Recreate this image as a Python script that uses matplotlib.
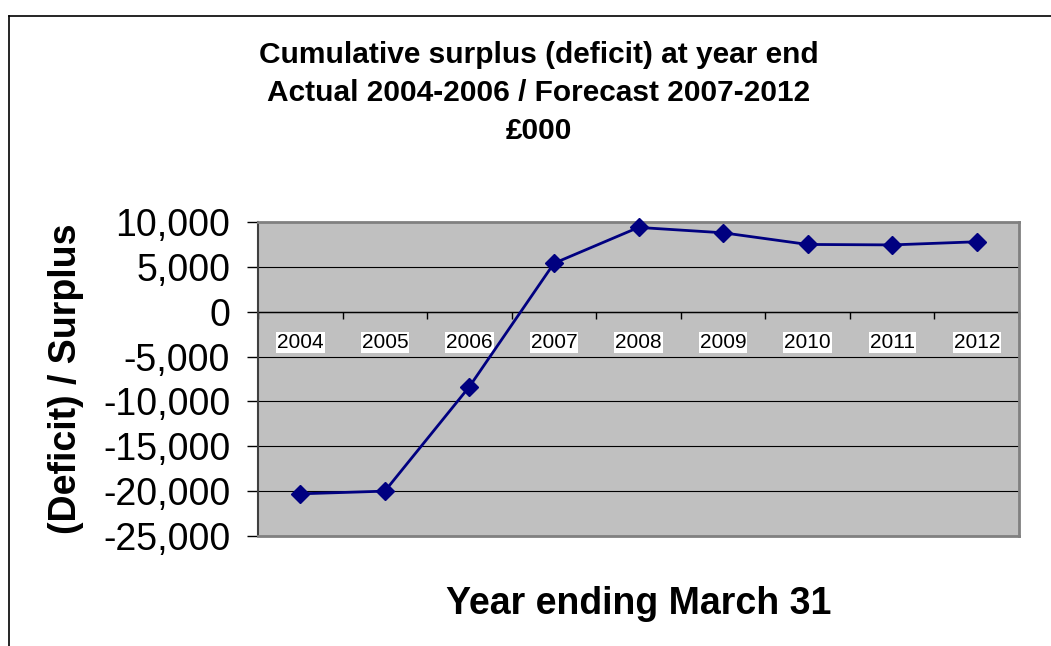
import numpy as np
import matplotlib
matplotlib.use("Agg")
import matplotlib.pyplot as plt
from matplotlib.lines import Line2D

years = ["2004", "2005", "2006", "2007", "2008", "2009", "2010", "2011", "2012"]
balance = [-20300, -20000, -8350, 5400, 9400, 8800, 7500, 7450, 7800]
y_ticks = [10000, 5000, 0, -5000, -10000, -15000, -20000, -25000]

title = "Cumulative surplus (deficit) at year end\nActual 2004-2006 / Forecast 2007-2012\n£000"

plt.rcParams["font.family"] = ["Liberation Sans", "DejaVu Sans"]

fig = plt.figure(figsize=(10.51, 6.46), dpi=100)
ax = fig.add_axes([0.2455, 0.1703, 0.7241, 0.486])
ax.set_facecolor("#c0c0c0")

x = np.arange(len(years))
ax.set_xlim(-0.5, len(years) - 0.5)
ax.set_ylim(min(y_ticks), max(y_ticks))

# gridlines and zero axis
for v in y_ticks[1:-1]:
    ax.axhline(v, color="black", lw=0.8, zorder=1)
ax.axhline(0, color="black", lw=1.0, zorder=2)
bounds = np.arange(len(years) + 1) - 0.5
ax.plot(bounds, np.zeros_like(bounds), ls="none", marker=3, markersize=5,
        markeredgewidth=1.0, color="black", zorder=2, clip_on=False)

for xi, lab in zip(x, years):
    ax.annotate(lab, (xi, 0), xytext=(0, -22), textcoords="offset points",
                ha="center", va="center", fontsize=15,
                bbox=dict(boxstyle="square,pad=0.05", fc="white", ec="none"),
                zorder=3)

ax.plot(x, balance, color="#000080", lw=2, marker="D", markersize=9.5,
        zorder=4, clip_on=False)

ax.set_xticks([])
ax.set_yticks(y_ticks)
ax.set_yticklabels([f"{v:,}" for v in y_ticks], fontsize=27)
ax.tick_params(axis="y", direction="out", length=8, width=1, pad=12)

for side in ["top", "right", "bottom"]:
    ax.spines[side].set_color("#808080")
    ax.spines[side].set_linewidth(2)
ax.spines["left"].set_color("#404040")
ax.spines["left"].set_linewidth(1.5)

ax.set_ylabel("(Deficit) / Surplus", fontsize=27, fontweight="bold", labelpad=14)
ax.set_xlabel("Year ending March 31", fontsize=27, fontweight="bold", labelpad=36)

fig.text(0.5124, 0.856, title, ha="center", va="center", fontsize=21.5,
         fontweight="bold", linespacing=1.45)

# outer chart frame (left and top edges visible)
fig.add_artist(Line2D([9 / 1051, 9 / 1051], [0, 1 - 16 / 646], color="black", lw=1.2))
fig.add_artist(Line2D([9 / 1051, 1], [1 - 16 / 646, 1 - 16 / 646], color="black", lw=1.2))

fig.savefig("out.png", dpi=100)
